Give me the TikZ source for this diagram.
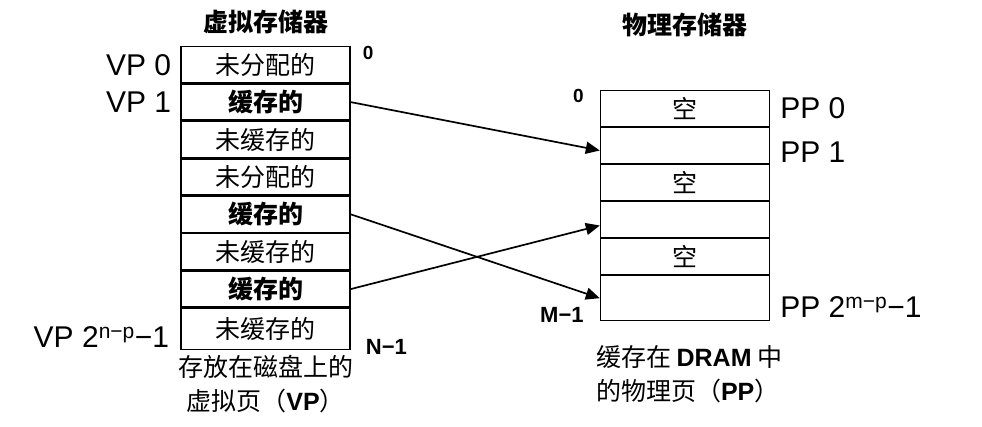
\documentclass[tikz,border=0pt]{standalone}
\usepackage{fontspec}
\setmainfont{Liberation Sans}
\newfontfamily\cjk{Noto Sans CJK SC}
\usetikzlibrary{arrows.meta,positioning}
\tikzset{
  cell/.style={draw, line width=1.4pt, minimum width=169pt, minimum height=36pt, inner sep=0pt,
               font=\cjk\fontsize{25}{29}\selectfont},
  cellb/.style={cell, font=\cjk\bfseries\fontsize{25}{29}\selectfont},
  pglbl/.style={inner sep=0pt, font=\fontsize{30}{34}\selectfont},
  idx/.style={inner sep=0pt, font=\bfseries\fontsize{22}{24}\selectfont},
  zero/.style={inner sep=0pt, font=\bfseries\fontsize{19}{21}\selectfont},
  ttl/.style={inner sep=0pt, font=\cjk\bfseries\fontsize{25}{29}\selectfont},
  pgcap/.style={inner sep=0pt, font=\cjk\fontsize{25}{34}\selectfont},
  maparr/.style={-{Triangle[length=14pt,width=12pt]}, line width=1.7pt},
}

\begin{document}
\begin{tikzpicture}[x=1pt, y=-1pt, node distance=0pt]
  \useasboundingbox (0,0) rectangle (982,427);
  % virtual pages
  \node[cell, anchor=north] (v0) at (265.5,46) {未分配的};
  \node[cellb, below=of v0] (v1) {缓存的};
  \node[cell, below=of v1] (v2) {未缓存的};
  \node[cell, below=of v2] (v3) {未分配的};
  \node[cellb, below=of v3] (v4) {缓存的};
  \node[cell, below=of v4] (v5) {未缓存的};
  \node[cellb, below=of v5] (v6) {缓存的};
  \node[cell, below=of v6, minimum height=41pt] (v7) {未缓存的};
  \node[ttl, above=12pt of v0] (vtitle) {虚拟存储器};
  \node[pglbl, left=9pt of v0] (vp0) {VP 0};
  \node[pglbl, left=9pt of v1] (vp1) {VP 1};
  \node[pglbl, left=11pt of v7, yshift=-8pt] (vpn) {VP 2\textsuperscript{n−p}−1};
  \node[zero, anchor=west] (vtop) at ([xshift=12pt,yshift=-7pt]v0.north east) {0};
  \node[idx, anchor=west] (vbot) at ([xshift=15pt,yshift=3pt]v7.south east) {N−1};
  \node[pgcap, below=5pt of v7, align=center] (vcap) {存放在磁盘上的\\虚拟页（{\normalfont\bfseries VP}）};

  % physical pages
  \node[cell, anchor=north, minimum height=35.6pt] (p0) at (685,90) {空};
  \node[cell, below=of p0, minimum height=35.6pt] (p1) {};
  \node[cell, below=of p1, minimum height=35.6pt] (p2) {空};
  \node[cell, below=of p2, minimum height=35.6pt] (p3) {};
  \node[cell, below=of p3, minimum height=35.6pt] (p4) {空};
  \node[cell, below=of p4, minimum height=45pt] (p5) {};
  \node[ttl, above=53pt of p0] (ptitle) {物理存储器};
  \node[pglbl, right=10pt of p0] (pp0) {PP 0};
  \node[pglbl, right=10pt of p1, yshift=-7pt] (pp1) {PP 1};
  \node[pglbl, right=10pt of p5, yshift=-9pt] (ppm) {PP 2\textsuperscript{m−p}−1};
  \node[zero, anchor=east] (ptop) at ([xshift=-16pt,yshift=-6pt]p0.north west) {0};
  \node[idx, anchor=east] (pbot) at ([xshift=-16pt,yshift=6pt]p5.south west) {M−1};
  \node[pgcap, anchor=north west, align=left] (pcap) at ([xshift=-4pt,yshift=-24pt]p5.south west)
    {缓存在 {\normalfont\bfseries DRAM} 中\\的物理页（{\normalfont\bfseries PP}）};

  % mapping
  \draw[maparr] (v1.east) -- ([yshift=-5pt]p1.west);
  \draw[maparr] (v4.east) -- (p5.west);
  \draw[maparr] (v6.east) -- ([yshift=-6pt]p3.west);
\end{tikzpicture}
\end{document}
